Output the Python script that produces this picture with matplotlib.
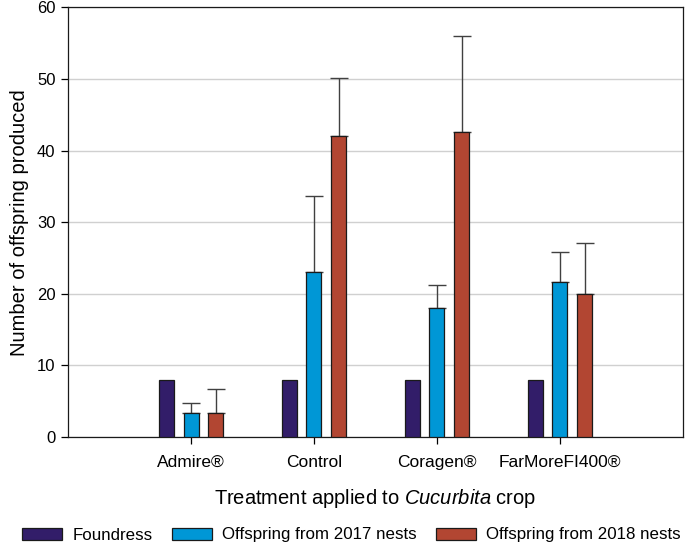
import matplotlib
matplotlib.use("Agg")
import matplotlib.pyplot as plt
import numpy as np
from matplotlib.patches import Patch

plt.rcParams['font.family'] = ['Liberation Sans', 'DejaVu Sans']
plt.rcParams['mathtext.fontset'] = 'custom'
plt.rcParams['mathtext.rm'] = 'Liberation Sans'
plt.rcParams['mathtext.it'] = 'Liberation Sans:italic'

categories = ["Admire®", "Control", "Coragen®", "FarMoreFI400®"]
series_names = ["Foundress", "Offspring from 2017 nests", "Offspring from 2018 nests"]
foundress = [8, 8, 8, 8]
off2017 = [3.4, 23.0, 18.0, 21.7]
off2017_upper = [4.8, 33.6, 21.2, 25.8]
off2018 = [3.4, 42.0, 42.6, 20.0]
off2018_upper = [6.7, 50.2, 56.0, 27.1]
colors = ["#321d69", "#0097d6", "#b24632"]

fig = plt.figure(figsize=(6.85, 5.46), dpi=100)
ax = fig.add_axes([0.0993, 0.1996, 0.8977, 0.7867])

x = np.arange(len(categories))
w = 0.122
off = 0.2
series = [foundress, off2017, off2018]
uppers = [None, off2017_upper, off2018_upper]
for i, (vals, up) in enumerate(zip(series, uppers)):
    pos = x + (i - 1) * off
    ax.bar(pos, vals, width=w, color=colors[i], edgecolor="#1a1a1a", linewidth=0.9, zorder=3)
    if up is not None:
        err = np.array(up) - np.array(vals)
        ax.errorbar(pos, vals, yerr=[np.zeros_like(err), err], fmt='none',
                    ecolor="#404040", elinewidth=1.0, capsize=6.5, capthick=1.0, zorder=2)

ax.set_xlim(-1, 4)
ax.set_ylim(0, 60)
ax.set_yticks(range(0, 61, 10))
ax.set_xticks(x)
ax.set_xticklabels(categories, fontsize=12.5)
ax.tick_params(axis='y', labelsize=12, length=5, width=0.9, pad=4)
ax.tick_params(axis='x', length=5, width=0.9, pad=8)
ax.yaxis.grid(True, color="#d0d0d0", linewidth=1.0, zorder=0)
ax.set_axisbelow(True)
for s in ax.spines.values():
    s.set_linewidth(0.9)
    s.set_color("#1a1a1a")

ax.set_ylabel("Number of offspring produced", fontsize=14.5, labelpad=6)
ax.set_xlabel("Treatment applied to $\\it{Cucurbita}$ crop", fontsize=14.5, labelpad=12)

handles = [Patch(facecolor=c, edgecolor="#1a1a1a", linewidth=0.9) for c in colors]
fig.legend(handles, series_names, loc='center', bbox_to_anchor=(0.513, (546 - 535) / 546),
           ncol=3, frameon=False, fontsize=12.2, handlelength=2.35, handleheight=0.72,
           handletextpad=0.6, columnspacing=1.15, borderpad=0, borderaxespad=0)

fig.savefig("out.png", dpi=100)
